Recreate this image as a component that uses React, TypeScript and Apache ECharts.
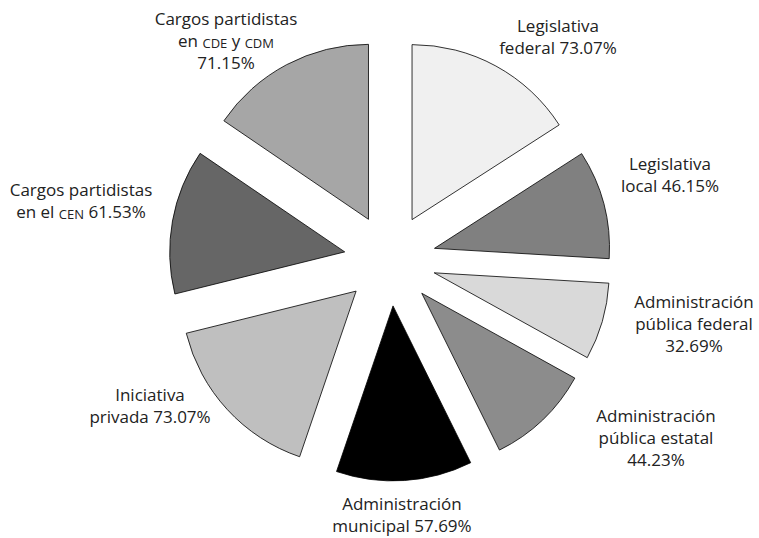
import React, { useEffect, useRef } from "react";
import * as echarts from "echarts";

const categories = [
  "Legislativa federal",
  "Legislativa local",
  "Administración pública federal",
  "Administración pública estatal",
  "Administración municipal",
  "Iniciativa privada",
  "Cargos partidistas en el CEN",
  "Cargos partidistas en CDE y CDM",
];
const values = [73.07, 46.15, 32.69, 44.23, 57.69, 73.07, 61.53, 71.15];
const colors = ["#f0f0f0", "#808080", "#d9d9d9", "#8c8c8c", "#000000", "#bfbfbf", "#666666", "#a6a6a6"];
// label lines; {v} = value, [..] = small caps
const labelTemplates = [
  ["Legislativa", "federal {v}%"],
  ["Legislativa", "local {v}%"],
  ["Administración", "pública federal", "{v}%"],
  ["Administración", "pública estatal", "{v}%"],
  ["Administración", "municipal {v}%"],
  ["Iniciativa", "privada {v}%"],
  ["Cargos partidistas", "en el [CEN] {v}%"],
  ["Cargos partidistas", "en [CDE] y [CDM]", "{v}%"],
];
// centre of each label block on the page
const labelCenters = [
  [558, 37],
  [670, 175],
  [694, 324],
  [656, 438],
  [402, 515],
  [150, 406],
  [81, 201],
  [226, 41],
];

const EXPLODE = 46;
const TEXT_SHIFT = -3;

function buildLabel(i: number): string {
  const v = values[i].toFixed(2);
  return labelTemplates[i]
    .map((line) => {
      const txt = line.replace("{v}", v);
      const parts = txt.split(/(\[[^\]]+\])/).filter((p) => p.length > 0);
      return parts
        .map((p) => (p.startsWith("[") ? `{sc|${p.slice(1, -1)}}` : `{t|${p}}`))
        .join("");
    })
    .join("\n");
}

// direction of the explode offset of slice i (clockwise from 12 o'clock)
function explodeVector(i: number): [number, number] {
  const total = values.reduce((a, b) => a + b, 0);
  let before = 0;
  for (let k = 0; k < i; k++) before += values[k];
  const theta = ((before + values[i] / 2) / total) * Math.PI * 2;
  return [EXPLODE * Math.sin(theta), -EXPLODE * Math.cos(theta)];
}

export default function App() {
  const ref = useRef<HTMLDivElement>(null);
  useEffect(() => {
    if (!ref.current) return;
    const chart = echarts.init(ref.current, null, { renderer: "svg" });
    const font = "'Open Sans', Lato, sans-serif";
    chart.setOption({
      animation: false,
      backgroundColor: "#ffffff",
      series: [
        {
          type: "pie",
          center: [390, 260],
          radius: [0, 175],
          startAngle: 90,
          clockwise: true,
          selectedMode: "multiple",
          selectedOffset: EXPLODE,
          avoidLabelOverlap: false,
          emphasis: { disabled: true },
          itemStyle: { borderColor: "#000", borderWidth: 0.8 },
          label: {
            show: true,
            position: "outside",
            formatter: (p: any) => buildLabel(p.dataIndex),
            color: "#222",
            fontFamily: font,
            lineHeight: 22,
            rich: {
              t: { fontSize: 17, fontFamily: font, color: "#222", align: "center", verticalAlign: "bottom", lineHeight: 22 },
              sc: { fontSize: 13, fontFamily: font, color: "#222", align: "center", verticalAlign: "bottom", lineHeight: 22 },
            },
          },
          labelLine: { show: false, length: 40, length2: 0 },
          labelLayout: (params: any) => {
            const i = params.dataIndex;
            const c = labelCenters[i];
            const r = params.labelRect;
            const off = explodeVector(i);
            return {
              dx: c[0] - off[0] - (r.x + r.width / 2),
              dy: c[1] + TEXT_SHIFT - off[1] - (r.y + r.height / 2),
              hideOverlap: false,
            };
          },
          data: categories.map((name, i) => ({
            name,
            value: values[i],
            selected: true,
            itemStyle: { color: colors[i] },
            select: { itemStyle: { color: colors[i], borderColor: "#000", borderWidth: 0.8 } },
          })),
        },
      ],
    });
    return () => chart.dispose();
  }, []);
  return <div ref={ref} style={{ position: "fixed", left: 0, top: 0, width: 759, height: 538 }} />;
}
